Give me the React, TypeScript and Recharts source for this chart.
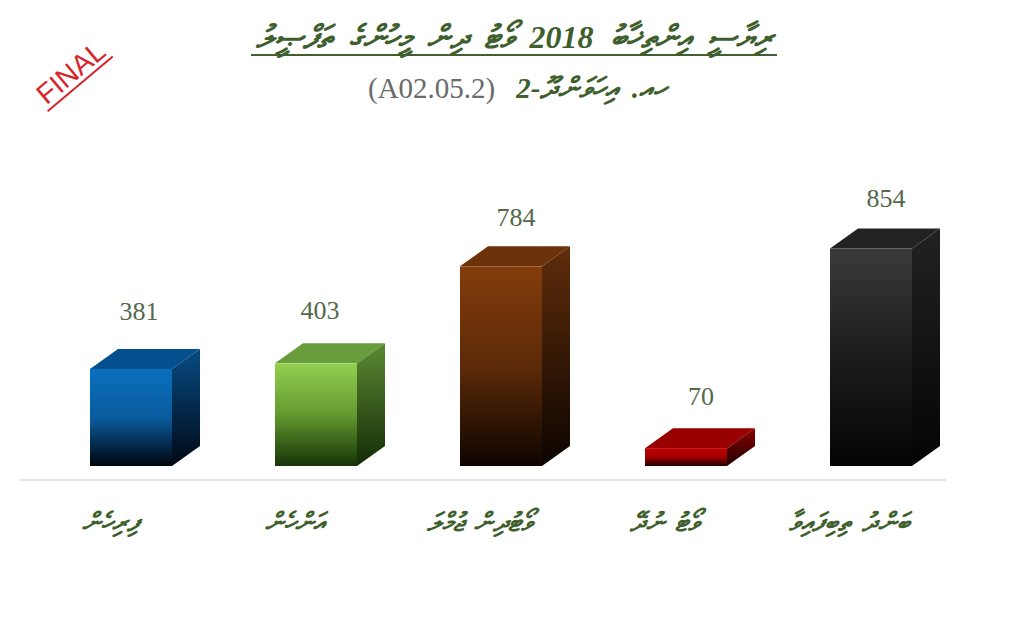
import { BarChart, Bar, XAxis, YAxis, LabelList } from 'recharts'

const categories = ['ފިރިހެން', 'އަންހެން', 'ވޯޓުދިން ޖުމްލަ', 'ވޯޓު ނުދޭ', 'ބަންދު ތިބިފައިވާ']
const values = [381, 403, 784, 70, 854]
const labelNudgeX = [8, 4, 15, 15, 15]
const labelNudgeY = [-3, 2, 6, 3, 4]

const titleText = 'ރިޔާސީ އިންތިޚާބު 2018 ވޯޓު ދިން މީހުންގެ ތަފްޞީލު'
const subtitleThaana = 'ހއ. އިހަވަންދޫ-2'
const subtitleCode = '(A02.05.2)'

const chartData = categories.map((name, i) => ({ name, value: values[i] }))

const DEPTH_X = 28
const DEPTH_Y = 20
const GREEN = '#3f5f2e'

// front top, front mid, front bottom, side top, side bottom, lid
const faces = [
  ['#0a70bf', '#0a5c9e', '#00040c', '#064c84', '#000814', '#054f8f'],
  ['#92d050', '#64992f', '#153408', '#5c8a33', '#132c07', '#699c3b'],
  ['#843c0c', '#5c2a08', '#0e0400', '#5f2d0b', '#0c0400', '#6c3209'],
  ['#c00000', '#a00000', '#200000', '#8a0000', '#200000', '#990000'],
  ['#3a3a3a', '#1c1c1c', '#040404', '#222222', '#040404', '#232323'],
]

function Box3D(props: any) {
  const { x, y, width, height, index } = props
  const r = x + width
  const b = y + height
  return (
    <g>
      <polygon
        points={`${x},${y} ${x + DEPTH_X},${y - DEPTH_Y} ${r + DEPTH_X},${y - DEPTH_Y} ${r},${y}`}
        fill={faces[index][5]}
      />
      <polygon
        points={`${r},${y} ${r + DEPTH_X},${y - DEPTH_Y} ${r + DEPTH_X},${b - DEPTH_Y} ${r},${b}`}
        fill={`url(#side-${index})`}
      />
      <rect x={x} y={y} width={width} height={height} fill={`url(#front-${index})`} />
    </g>
  )
}

function ValueLabel(props: any) {
  const { x, y, width, value, index } = props
  return (
    <text
      x={x + width / 2 + labelNudgeX[index]}
      y={y - 46 + labelNudgeY[index]}
      textAnchor="middle"
      fontFamily="'Liberation Serif'"
      fontSize={26}
      fill="#55694c"
    >
      {value}
    </text>
  )
}

function CategoryTick(props: any) {
  const { x, y, payload } = props
  return (
    <text
      x={x - 21}
      y={y + 57}
      textAnchor="middle"
      direction="rtl"
      fontFamily="'Noto Sans', 'DejaVu Sans', sans-serif"
      fontStyle="italic"
      fontWeight="bold"
      fontSize={26}
      wordSpacing={4}
      fill={GREEN}
    >
      {payload.value}
    </text>
  )
}

export default function App() {
  return (
    <div style={{ position: 'absolute', left: 0, top: 0, width: 1024, height: 620, background: '#fff', overflow: 'hidden' }}>
      <div
        style={{
          position: 'absolute', left: 251, top: 18, width: 526, height: 36,
          textAlign: 'center', direction: 'rtl', whiteSpace: 'nowrap',
          fontFamily: "'Liberation Serif', 'Noto Sans', serif", fontStyle: 'italic', fontWeight: 'bold',
          fontSize: 32, lineHeight: '38px', wordSpacing: 9, color: GREEN, borderBottom: `2px solid ${GREEN}`,
        }}
      >
        {titleText}
      </div>
      <div
        style={{
          position: 'absolute', left: 368, top: 70, whiteSpace: 'nowrap',
          fontFamily: "'Liberation Serif', serif", fontSize: 29, lineHeight: '36px', color: '#6a6a6a',
        }}
      >
        <span>{subtitleCode}</span>
        <span style={{ fontStyle: 'italic', fontWeight: 'bold', color: GREEN, marginLeft: 21, wordSpacing: 6 }} dir="rtl">
          {subtitleThaana}
        </span>
      </div>
      <div
        style={{
          position: 'absolute', left: 28.7, top: 59.4, width: 85, height: 27,
          textAlign: 'center', transform: 'rotate(-40deg)', whiteSpace: 'nowrap',
          fontFamily: "'Liberation Sans', sans-serif", fontSize: 28, lineHeight: '27px', color: '#d8232a',
          borderBottom: '2px solid #d8232a',
        }}
      >
        FINAL
      </div>
      <BarChart
        width={1024}
        height={620}
        data={chartData}
        margin={{ top: 84, right: 61, bottom: 0, left: 38 }}
        style={{ position: 'absolute', left: 0, top: 0 }}
      >
        <defs>
          {faces.map((f, i) => (
            <linearGradient key={`front-${i}`} id={`front-${i}`} x1="0" y1="0" x2="0" y2="1">
              <stop offset="0%" stopColor={f[0]} />
              <stop offset="50%" stopColor={f[1]} />
              <stop offset="100%" stopColor={f[2]} />
            </linearGradient>
          ))}
          {faces.map((f, i) => (
            <linearGradient key={`side-${i}`} id={`side-${i}`} x1="0" y1="0" x2="0" y2="1">
              <stop offset="0%" stopColor={f[3]} />
              <stop offset="100%" stopColor={f[4]} />
            </linearGradient>
          ))}
        </defs>
        <line x1={20} y1={480} x2={946} y2={480} stroke="#dcdcdc" strokeWidth={1.5} />
        <XAxis dataKey="name" height={154} axisLine={false} tickLine={false} tick={<CategoryTick />} interval={0} />
        <YAxis hide domain={[0, 1500]} />
        <Bar dataKey="value" barSize={82} shape={<Box3D />} isAnimationActive={false}>
          <LabelList dataKey="value" content={<ValueLabel />} />
        </Bar>
      </BarChart>
    </div>
  )
}
